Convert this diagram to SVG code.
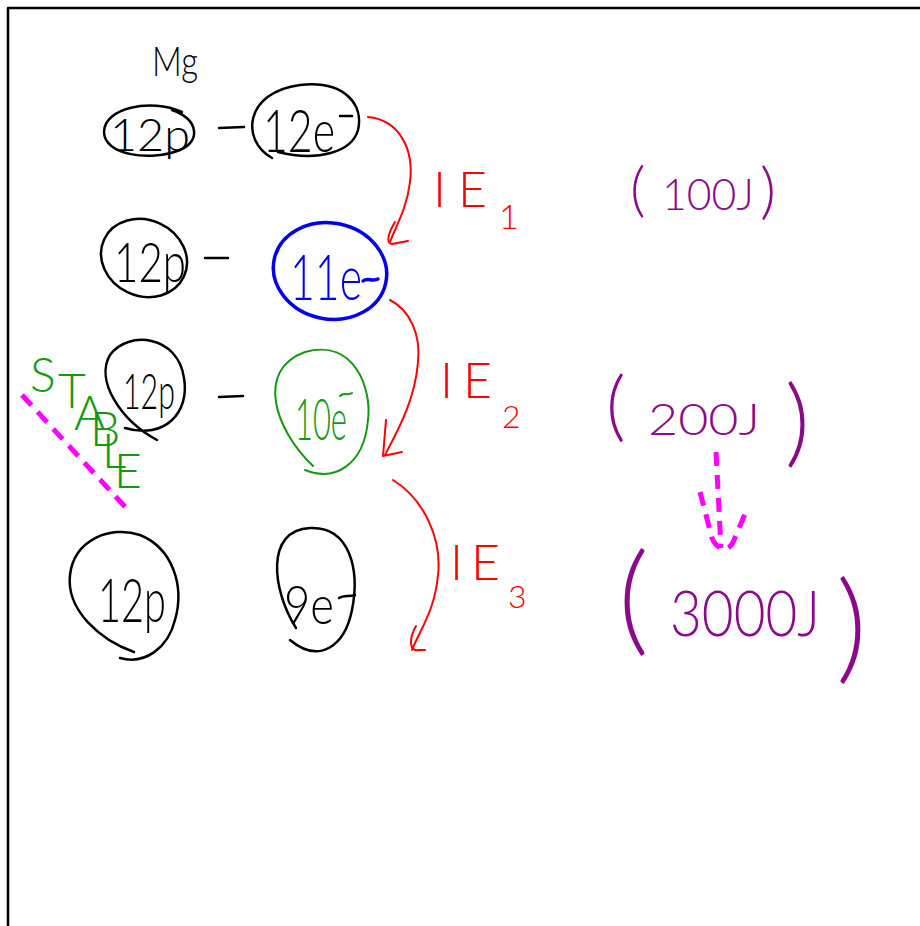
<svg xmlns="http://www.w3.org/2000/svg" width="920" height="926" viewBox="0 0 920 926">
<style>
.ink{fill:none;stroke-linecap:round;stroke-linejoin:round}
.k{stroke:#000;stroke-width:2.5}
.r{stroke:#ff0000;stroke-width:2}
.b{stroke:#0000ee;stroke-width:3.5}
.g{stroke:#119911;stroke-width:2}
.m{stroke:#ff00ff;stroke-width:5;stroke-dasharray:14 9;stroke-linecap:butt}
.t{font-family:"Lato","Open Sans","DejaVu Sans",sans-serif;font-weight:300}
.tk{fill:#000}.tr{fill:#ff0000}.tb{fill:#0000ee}.tg{fill:#119911}.tp{fill:#8b0a8b}
</style>
<rect width="920" height="926" fill="#fff"/>
<path class="ink k" d="M8,926 L8,8 L920,8"/>

<text class="t tk" x="152" y="76" font-size="42" textLength="46" lengthAdjust="spacingAndGlyphs">Mg</text>

<g id="p1">
<path class="ink k" d="M182,112 C150,98 104,108 104,132 C104,155 150,162 180,150 C200,142 200,120 172,110"/>
<text class="t tk" x="110" y="151" font-size="46" textLength="80" lengthAdjust="spacingAndGlyphs">12p</text>
</g>
<path class="ink k" d="M219,128 L244,127"/>
<g id="e1">
<path class="ink k" d="M272,158 C240,140 245,92 300,85 C345,80 364,105 358,130 C352,152 318,162 278,152"/>
<text class="t tk" x="263" y="152" font-size="60" textLength="72" lengthAdjust="spacingAndGlyphs">12e</text>
<path class="ink k" d="M340,116 L352,116"/>
</g>

<g id="p2">
<ellipse class="ink k" cx="144" cy="258" rx="44" ry="38" transform="rotate(25 144 258)"/>
<text class="t tk" x="114" y="282" font-size="56" textLength="72" lengthAdjust="spacingAndGlyphs">12p</text>
</g>
<path class="ink k" d="M205,258 L228,258"/>
<g id="e2">
<ellipse class="ink b" cx="330" cy="271" rx="57" ry="48" transform="rotate(12 330 271)"/>
<text class="t tb" x="290" y="300" font-size="64" textLength="72" lengthAdjust="spacingAndGlyphs">11e</text>
<path class="ink b" d="M363,281 C368,277 372,282 378,279"/>
</g>

<g id="p3">
<path class="ink k" d="M157,440 C120,420 95,380 110,355 C128,330 178,335 184,378 C190,412 165,440 125,428"/>
<text class="t tk" x="123" y="409" font-size="50" textLength="52" lengthAdjust="spacingAndGlyphs">12p</text>
</g>
<path class="ink k" d="M219,397 L243,396"/>
<g id="e3">
<path class="ink g" d="M313,466 C275,430 255,370 305,352 C355,338 372,390 368,420 C364,465 335,482 305,470"/>
<text class="t tg" x="295" y="440" font-size="58" textLength="52" lengthAdjust="spacingAndGlyphs">10e</text>
<path class="ink g" d="M340,396 C344,392 348,396 352,393"/>
</g>

<g id="p4">
<path class="ink k" d="M134,652 C100,640 66,610 70,575 C74,540 110,525 140,535 C172,548 185,585 175,620 C168,648 145,665 120,658"/>
<text class="t tk" x="98" y="622" font-size="62" textLength="68" lengthAdjust="spacingAndGlyphs">12p</text>
</g>
<g id="e4">
<path class="ink k" d="M296,628 C272,590 265,530 310,528 C350,526 360,570 352,610 C345,645 320,665 290,640"/>
<text class="t tk" x="284" y="624" font-size="54" textLength="50" lengthAdjust="spacingAndGlyphs">9e</text>
<path class="ink k" d="M339,598 C344,595 349,597 355,595"/>
</g>

<g id="stable">
<text class="t tg" font-size="48" x="30 58 74 90 102 114" y="392 408 430 446 468 488">STABLE</text>
<path class="ink m" d="M22,395 L128,510"/>
</g>

<g id="connectors">
<path class="ink r" d="M368,117 C400,120 414,150 410,182 C407,208 396,226 390,242"/>
<path class="ink r" d="M395,222 C389,232 385,243 392,244 L408,241"/>
<path class="ink r" d="M390,300 C410,310 421,335 418,362 C415,400 398,430 385,455"/>
<path class="ink r" d="M386,420 L383,456 L402,452"/>
<path class="ink r" d="M393,480 C425,500 442,540 438,575 C435,610 420,630 412,650"/>
<path class="ink r" d="M416,626 C409,638 409,652 418,650 L425,650"/>
<path class="ink m" d="M716,452 L721,548"/>
<path class="ink m" d="M700,492 L712,538 C718,552 730,552 734,540 L745,514"/>
</g>

<text class="t tr" x="433" y="207" font-size="50" letter-spacing="12">IE<tspan font-size="34" dy="22">1</tspan></text>
<text class="t tr" x="440" y="398" font-size="50" letter-spacing="10">IE<tspan font-size="32" dy="30">2</tspan></text>
<text class="t tr" x="450" y="580" font-size="50" letter-spacing="8">IE<tspan font-size="32" dy="28">3</tspan></text>

<g id="v1">
<text class="t tp" x="630" y="210" font-size="60">(</text>
<text class="t tp" x="662" y="210" font-size="44" textLength="92" lengthAdjust="spacingAndGlyphs">100J</text>
<text class="t tp" x="760" y="212" font-size="62">)</text>
</g>
<g id="v2">
<text class="t tp" x="606" y="432" font-size="76">(</text>
<text class="t tp" x="648" y="435" font-size="44" textLength="112" lengthAdjust="spacingAndGlyphs">200J</text>
<text class="t tp" x="785" y="455" font-size="96">)</text>
</g>
<g id="v3">
<text class="t tp" x="618" y="640" font-size="120">(</text>
<text class="t tp" x="670" y="636" font-size="64" textLength="150" lengthAdjust="spacingAndGlyphs">3000J</text>
<text class="t tp" x="836" y="668" font-size="120">)</text>
</g>
</svg>
